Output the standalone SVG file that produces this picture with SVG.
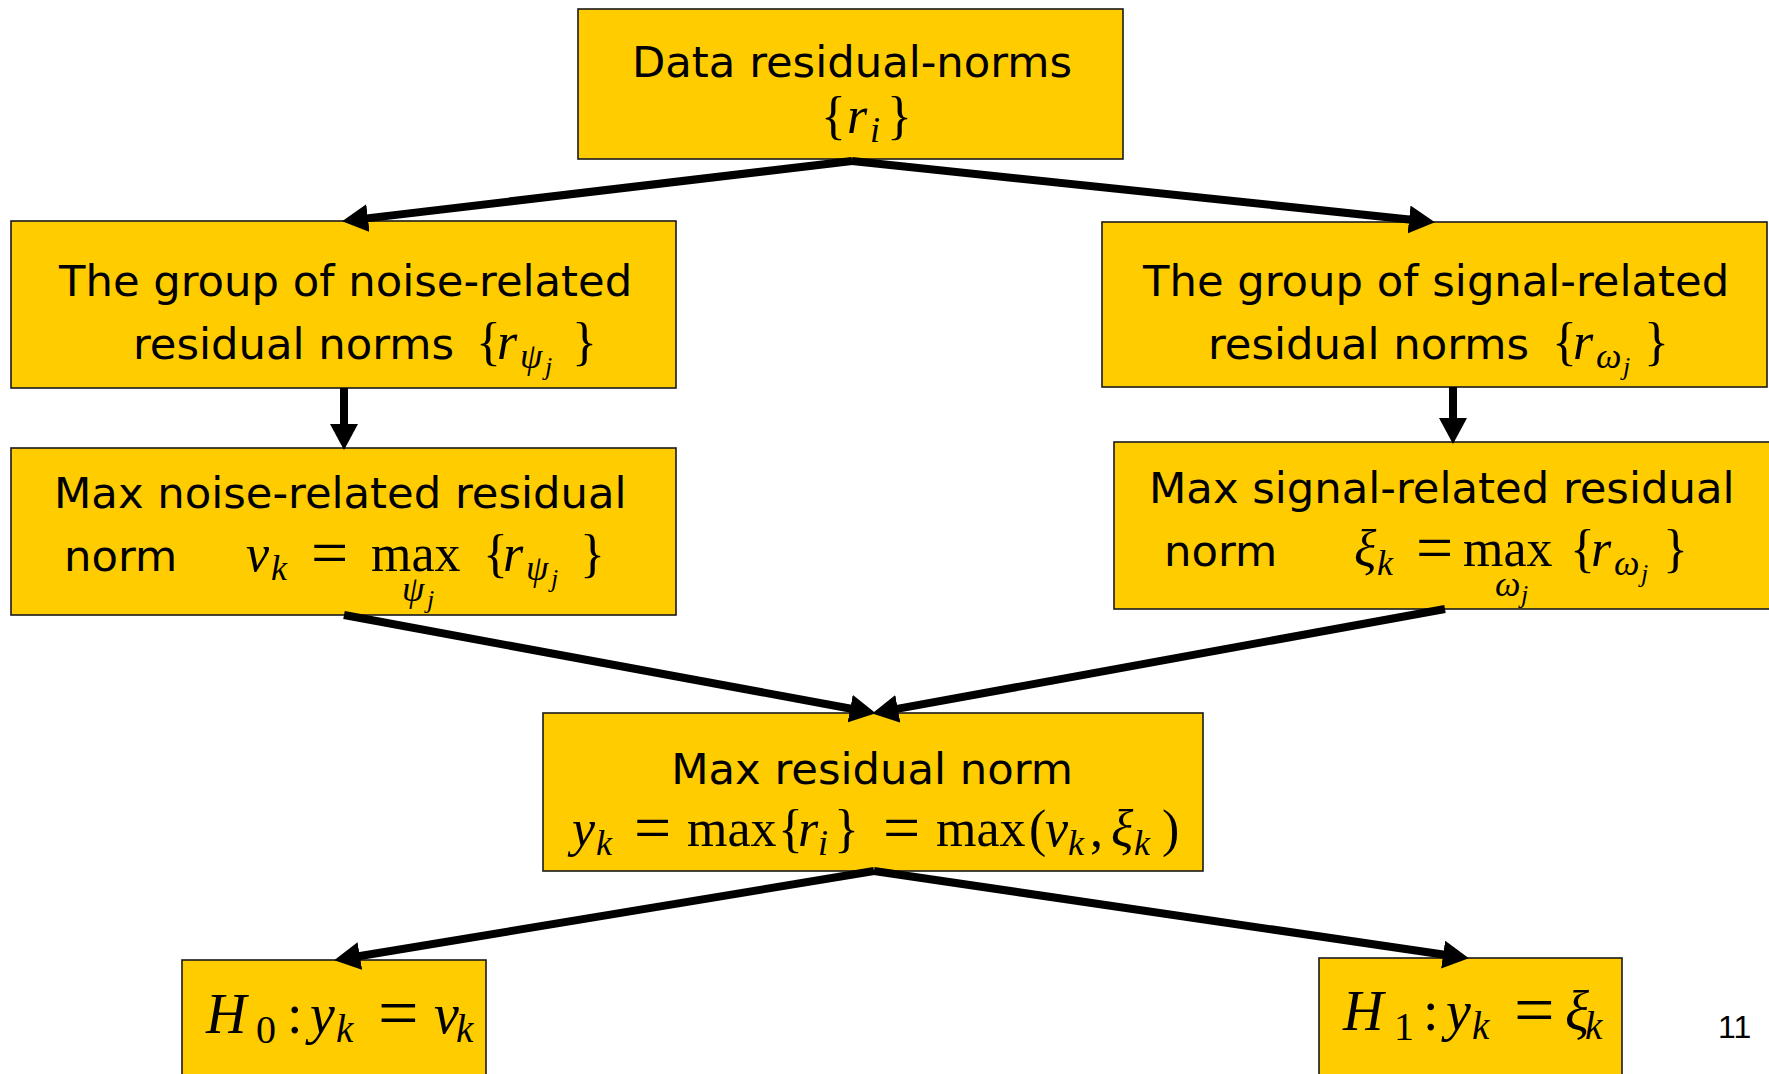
<svg xmlns="http://www.w3.org/2000/svg" width="1769" height="1074" viewBox="0 0 1769 1074">
<style>
.box{fill:#FFCC00;stroke:#1a1a1a;stroke-width:1.6}
.t{font-family:"DejaVu Sans",Verdana,sans-serif;font-size:43.3px;fill:#000}
.m{font-family:"Liberation Serif","Times New Roman",serif;font-size:52px;fill:#000}
.g{font-size:56px}
.i{font-style:italic}
.s{font-size:36px}
.ss{font-size:26px}
.eq{font-size:66px}
.conn line{stroke:#000;stroke-width:8;marker-end:url(#ah)}
.pg{font-family:"Liberation Sans",Arial,sans-serif;font-size:32px;fill:#000}
</style>
<defs>
<marker id="ah" markerUnits="userSpaceOnUse" markerWidth="27" markerHeight="29" refX="12" refY="14" orient="auto">
<path d="M0,0 L26,14 L0,28 z" fill="#000"/>
</marker>
</defs>
<rect width="1769" height="1074" fill="#fff"/>

<g id="n-data">
<rect class="box" x="578" y="9" width="545" height="150"/>
<text class="t" x="852" y="77" text-anchor="middle">Data residual-norms</text>
<text class="m"><tspan x="821" y="133">{</tspan><tspan class="i" x="847" y="133">r</tspan><tspan class="i s" x="870" y="142">i</tspan><tspan x="887" y="133">}</tspan></text>
</g>

<g id="n-noise-group">
<rect class="box" x="11" y="221" width="665" height="167"/>
<text class="t" x="59" y="296">The group of noise-related</text>
<text class="t" x="133" y="359">residual norms</text>
<text class="m"><tspan x="476" y="359">{</tspan><tspan class="i" x="497" y="359">r</tspan><tspan class="i s" x="520" y="368">ψ</tspan><tspan class="i ss" x="545" y="375">j</tspan><tspan x="572" y="359">}</tspan></text>
</g>

<g id="n-signal-group">
<rect class="box" x="1102" y="222" width="665" height="165"/>
<text class="t" x="1143" y="296">The group of signal-related</text>
<text class="t" x="1208" y="359">residual norms</text>
<text class="m"><tspan x="1552" y="359">{</tspan><tspan class="i" x="1573" y="359">r</tspan><tspan class="i s" x="1596" y="368">ω</tspan><tspan class="i ss" x="1623" y="375">j</tspan><tspan x="1644" y="359">}</tspan></text>
</g>

<g id="n-max-noise">
<rect class="box" x="11" y="448" width="665" height="167"/>
<text class="t" x="54" y="508">Max noise-related residual</text>
<text class="t" x="64" y="571">norm</text>
<text class="m"><tspan class="i" x="246" y="571">ν</tspan><tspan class="i s" x="271" y="580">k</tspan><tspan class="eq" x="311" y="575">=</tspan><tspan x="371" y="571">max</tspan><tspan class="i s" x="402" y="601">ψ</tspan><tspan class="i ss" x="427" y="608">j</tspan><tspan x="483" y="571">{</tspan><tspan class="i" x="503" y="571">r</tspan><tspan class="i s" x="526" y="580">ψ</tspan><tspan class="i ss" x="551" y="587">j</tspan><tspan x="580" y="571">}</tspan></text>
</g>

<g id="n-max-signal">
<rect class="box" x="1114" y="442" width="660" height="167"/>
<text class="t" x="1149" y="503">Max signal-related residual</text>
<text class="t" x="1164" y="566">norm</text>
<text class="m"><tspan class="i" x="1354" y="566">ξ</tspan><tspan class="i s" x="1377" y="575">k</tspan><tspan class="eq" x="1416" y="570">=</tspan><tspan x="1463" y="566">max</tspan><tspan class="i s" x="1495" y="596">ω</tspan><tspan class="i ss" x="1521" y="603">j</tspan><tspan x="1570" y="566">{</tspan><tspan class="i" x="1591" y="566">r</tspan><tspan class="i s" x="1614" y="575">ω</tspan><tspan class="i ss" x="1641" y="582">j</tspan><tspan x="1663" y="566">}</tspan></text>
</g>

<g id="n-max">
<rect class="box" x="543" y="713" width="660" height="158"/>
<text class="t" x="872" y="784" text-anchor="middle">Max residual norm</text>
<text class="m"><tspan class="i" x="572" y="846">y</tspan><tspan class="i s" x="596" y="855">k</tspan><tspan class="eq" x="634" y="850">=</tspan><tspan x="687" y="846">max</tspan><tspan x="778" y="846">{</tspan><tspan class="i" x="798" y="846">r</tspan><tspan class="i s" x="818" y="855">i</tspan><tspan x="834" y="846">}</tspan><tspan class="eq" x="883" y="850">=</tspan><tspan x="936" y="846">max</tspan><tspan x="1029" y="846">(</tspan><tspan class="i" x="1045" y="846">ν</tspan><tspan class="i s" x="1068" y="855">k</tspan><tspan x="1090" y="846">,</tspan><tspan class="i" x="1111" y="846">ξ</tspan><tspan class="i s" x="1134" y="855">k</tspan><tspan x="1162" y="846">)</tspan></text>
</g>

<g id="n-h0">
<rect class="box" x="182" y="960" width="304" height="130"/>
<text class="m g"><tspan class="i" x="206" y="1033">H</tspan><tspan style="font-size:40px" x="256" y="1043">0</tspan><tspan x="287" y="1033">:</tspan><tspan class="i" x="310" y="1033">y</tspan><tspan class="i" style="font-size:39px" x="336" y="1042">k</tspan><tspan style="font-size:72px" x="378" y="1037">=</tspan><tspan class="i" x="434" y="1033">ν</tspan><tspan class="i" style="font-size:39px" x="456" y="1042">k</tspan></text>
</g>

<g id="n-h1">
<rect class="box" x="1319" y="958" width="303" height="130"/>
<text class="m g"><tspan class="i" x="1343" y="1030">H</tspan><tspan style="font-size:40px" x="1394" y="1040">1</tspan><tspan x="1423" y="1030">:</tspan><tspan class="i" x="1446" y="1030">y</tspan><tspan class="i" style="font-size:39px" x="1472" y="1039">k</tspan><tspan style="font-size:72px" x="1514" y="1034">=</tspan><tspan class="i" x="1565" y="1030">ξ</tspan><tspan class="i" style="font-size:39px" x="1585" y="1039">k</tspan></text>
</g>

<g id="connectors" class="conn">
<line x1="852" y1="161" x2="356" y2="219.6"/>
<line x1="852" y1="161" x2="1421" y2="220.7"/>
<line x1="344" y1="388" x2="344" y2="436"/>
<line x1="1453" y1="387" x2="1453" y2="430"/>
<line x1="344" y1="615" x2="862" y2="710.8"/>
<line x1="1445" y1="609" x2="886" y2="710.9"/>
<line x1="874" y1="871" x2="348" y2="958"/>
<line x1="874" y1="871" x2="1455" y2="956.3"/>
</g>

<text class="pg" x="1718" y="1038">11</text>
</svg>
